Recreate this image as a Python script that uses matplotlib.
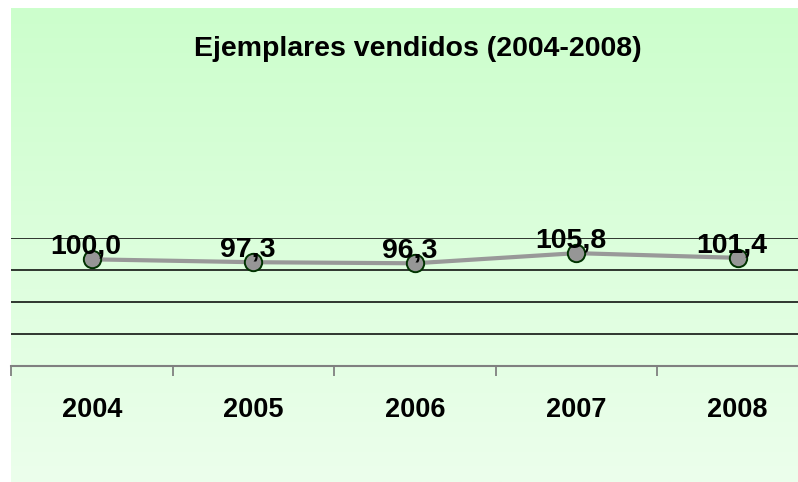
import matplotlib
matplotlib.use("Agg")
import matplotlib.pyplot as plt
import numpy as np
from matplotlib.colors import LinearSegmentedColormap

years = ["2004", "2005", "2006", "2007", "2008"]
values = [100.0, 97.3, 96.3, 105.8, 101.4]
value_labels = ["100,0", "97,3", "96,3", "105,8", "101,4"]
grid_values = [30, 60, 90, 120]

W, H = 798, 482
plt.rcParams["font.family"] = ["Liberation Sans", "DejaVu Sans"]
fig = plt.figure(figsize=(W / 100, H / 100), dpi=100)
fig.patch.set_facecolor("white")

# green gradient panel behind everything
bg = fig.add_axes([11 / W, 0, 1 - 11 / W, (H - 8) / H])
cmap = LinearSegmentedColormap.from_list("g", ["#CCFFCC", "#ECFEEC"])
bg.imshow(np.linspace(0, 1, 256).reshape(-1, 1), aspect="auto", cmap=cmap,
          extent=[0, 1, 0, 1])
bg.axis("off")

x = np.arange(len(years))
ax = fig.add_axes([11 / W, (H - 366) / H, 161.5 * 5 / W, 128 / H])
ax.patch.set_alpha(0)
ax.set_xlim(-0.5, 4.5)
ax.set_ylim(0, 120)

for g in grid_values:
    ax.axhline(g, color="black", lw=1.1, zorder=1)

ax.plot(x, values, color="#999999", lw=3, zorder=3, solid_capstyle="butt")
ax.plot(x, values, "o", ms=12.5, mfc="#969696", mec="#003300", mew=1.4, zorder=4)
for xi, v, lab in zip(x, values, value_labels):
    ax.annotate(lab, (xi, v), xytext=(-4, 4), textcoords="offset points",
                ha="center", va="baseline", fontsize=20.5, fontweight="bold",
                zorder=5, annotation_clip=False)

for s in ["top", "right", "left"]:
    ax.spines[s].set_visible(False)
ax.spines["bottom"].set_color("#808080")
ax.spines["bottom"].set_linewidth(1.5)
ax.set_yticks([])
ax.set_xticks(np.arange(-0.5, 5, 1))
ax.set_xticklabels([])
ax.tick_params(axis="x", which="major", length=7, width=1.3, color="#808080", direction="out")
ax.set_xticks(x, minor=True)
ax.set_xticklabels(years, minor=True, fontsize=19.5, fontweight="bold")
ax.tick_params(axis="x", which="minor", length=0, pad=22)

fig.text(418 / W, 1 - 49 / H, "Ejemplares vendidos (2004-2008)", ha="center",
         va="center", fontsize=20.5, fontweight="bold")

fig.savefig("out.png", dpi=100)
